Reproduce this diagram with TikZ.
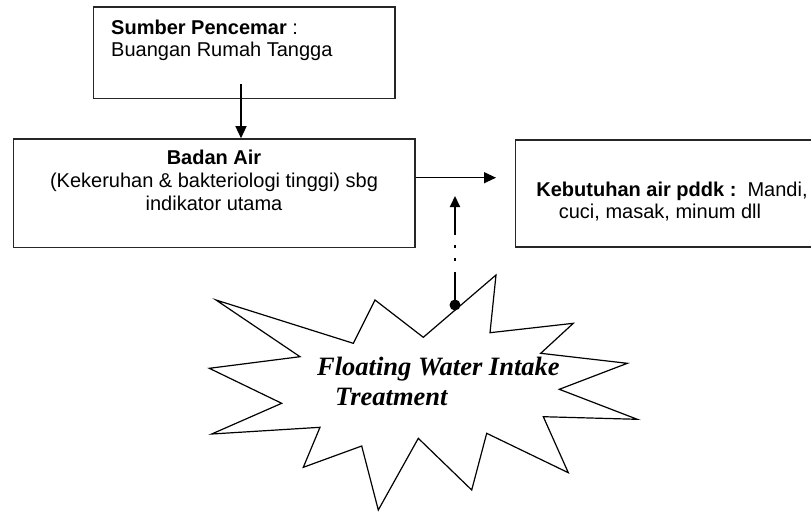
\documentclass[tikz,border=0pt]{standalone}
\usepackage{fontspec}
\setmainfont{Liberation Sans}
\newfontfamily\serifbi{Liberation Serif}
\usetikzlibrary{arrows.meta}
\begin{document}
\begin{tikzpicture}[x=1pt,y=-1pt,
  box/.style={draw=black!85, line width=1.6pt, rectangle, inner sep=0pt},
  txt/.style={font=\fontsize{20}{23}\selectfont, anchor=base, inner sep=0pt},
  txtl/.style={txt, anchor=base west},
  burst/.style={font=\serifbi\bfseries\itshape\fontsize{26.5}{30}\selectfont, anchor=base west, inner sep=0pt},
  flow/.style={line width=1.3pt, -{Triangle[length=12pt,width=11pt]}},
  feed/.style={line width=2pt, dash pattern=on 33pt off 11pt on 3pt off 10pt on 3pt off 10pt on 300pt, -{Triangle[length=11pt,width=10pt]}},
]
\useasboundingbox (0,0) rectangle (811,512);
\clip (0,0) rectangle (811,512);

% boxes
\node[box, minimum width=301.7pt, minimum height=91.3pt] (src) at (244.15,52.65) {};
\node[box, minimum width=401.7pt, minimum height=108.3pt] (badan) at (214.15,193.15) {};
\node[box, minimum width=300pt, minimum height=107pt] (keb) at (665.5,193.3) {};

% texts
\node[txtl] (srcA) at (111,34) {\textbf{Sumber Pencemar} :};
\node[txtl] (srcB) at (111,56) {Buangan Rumah Tangga};
\node[txt] (badA) at (214,164) {\textbf{Badan Air}};
\node[txt] (badB) at (214,187) {(Kekeruhan \& bakteriologi tinggi) sbg};
\node[txt] (badC) at (214,210) {indikator utama};
\node[txt] (kebA) at (672,196) {\textbf{Kebutuhan air pddk :}\ \ Mandi,};
\node[txt] (kebB) at (660,218) {cuci, masak, minum dll};

% starburst
\draw[line width=1.2pt, line join=miter] (216,300) -- (353.3,343.3) -- (375,300) -- (423.3,337.3)
  -- (496,275) -- (490,332.7) -- (573.3,323.3) -- (540.7,353.3) -- (627.3,363.3)
  -- (559.3,389.3) -- (637.3,419.3) -- (543.3,416.7) -- (568.3,472.7) -- (486.7,433.3)
  -- (471.7,490) -- (418.3,438.3) -- (378.3,510) -- (361.7,446) -- (303.3,467.3)
  -- (320,427.3) -- (211.7,434) -- (281.7,403.3) -- (209.3,368.3) -- (300,356.7) -- cycle;
\node[burst] (fwA) at (317,375) {Floating Water Intake};
\node[burst] (fwB) at (335,405) {Treatment};

% connectors
\coordinate (srcOut) at (241,84);
\draw[flow] (srcOut) -- (srcOut |- badan.north);
\coordinate (hEnd) at (496,177.7);
\draw[flow] (badan.east |- hEnd) -- (hEnd);
\coordinate (dot) at (455,305);
\coordinate (tip) at (455,196);
\fill (dot) circle (5.5pt);
\draw[feed] (dot) -- (tip);
\end{tikzpicture}
\end{document}
